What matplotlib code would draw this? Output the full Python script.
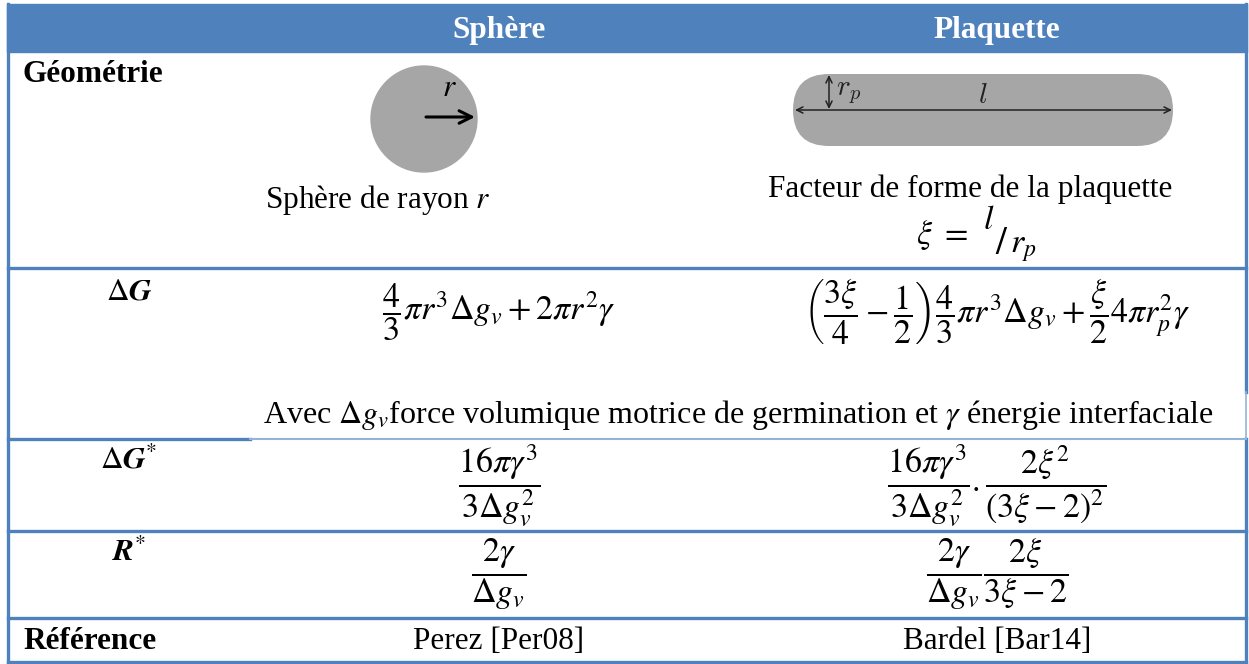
import matplotlib
matplotlib.use('Agg')
import matplotlib.pyplot as plt
from matplotlib.patches import Rectangle, Circle, FancyBboxPatch

plt.rcParams['mathtext.fontset'] = 'custom'
plt.rcParams['mathtext.rm'] = 'STIXGeneral'
plt.rcParams['mathtext.it'] = 'STIXGeneral:italic'
plt.rcParams['mathtext.bf'] = 'STIXGeneral:italic:bold'
plt.rcParams['font.family'] = ['Liberation Serif', 'DejaVu Serif']

# table content
columns = ['Sphère', 'Plaquette']
row_labels = ['Géométrie', r'$\Delta\mathbf{G}$', r'$\Delta\mathbf{G}^{*}$', r'$\mathbf{R}^{*}$', 'Référence']
geometry_captions = ['Sphère de rayon $r$', 'Facteur de forme de la plaquette']
shape_factor = [r'$\xi\ =$', '$l$', '$/$', '$r_p$']
delta_g = [r'$\dfrac{4}{3}\pi r^3\Delta g_v + 2\pi r^2\gamma$',
           r'$\left(\dfrac{3\xi}{4} - \dfrac{1}{2}\right)\dfrac{4}{3}\pi r^3\Delta g_v + \dfrac{\xi}{2}4\pi r_p^2\gamma$']
note = r'Avec $\Delta g_v$force volumique motrice de germination et $\gamma$ énergie interfaciale'
delta_g_star = [r'$\dfrac{16\pi\gamma^3}{3\Delta g_v^2}$',
                r'$\dfrac{16\pi\gamma^3}{3\Delta g_v^2}.\dfrac{2\xi^2}{(3\xi-2)^2}$']
r_star = [r'$\dfrac{2\gamma}{\Delta g_v}$',
          r'$\dfrac{2\gamma}{\Delta g_v}\dfrac{2\xi}{3\xi-2}$']
references = ['Perez [Per08]', 'Bardel [Bar14]']

BLUE = '#4F81BD'
LIGHT = '#95B3D7'
GREY = '#A6A6A6'
FS = 22.5
MFS = 24.5

fig = plt.figure(figsize=(12.49, 6.64), dpi=100)
ax = fig.add_axes([0, 0, 1, 1])
ax.set_xlim(0, 1249)
ax.set_ylim(664, 0)
ax.axis('off')

# column geometry (pixels)
x_left, x_c1, x_c2, x_right = 8, 250, 748, 1246
col_mid = [(x_c1 + x_c2) / 2, (x_c2 + x_right) / 2]
lab_mid = (x_left + x_c1) / 2

# header band
ax.add_patch(Rectangle((x_left - 1, 4), x_right - x_left + 2, 48, color=BLUE, zorder=1))
for name, xm in zip(columns, col_mid):
    ax.text(xm, 38, name, ha='center', va='baseline', color='white',
            fontsize=FS, fontweight='bold')

# borders and row rules
lw = 2.4
ax.plot([x_left, x_left], [4, 663], color=BLUE, lw=lw)
ax.plot([x_right, x_right], [4, 392], color=BLUE, lw=lw)
ax.plot([x_right, x_right], [392, 439], color=LIGHT, lw=1.2)
ax.plot([x_right, x_right], [439, 663], color=BLUE, lw=lw)
for y in [268, 531, 618, 662]:
    ax.plot([x_left, x_right], [y, y], color=BLUE, lw=lw)
ax.plot([x_left, x_c1], [439, 439], color=BLUE, lw=lw)
ax.plot([x_c1, x_right], [439, 439], color=LIGHT, lw=1.5)

# row labels
ax.text(23, 82, row_labels[0], ha='left', va='baseline', fontsize=FS, fontweight='bold')
ax.text(lab_mid, 292, row_labels[1], ha='center', va='center', fontsize=FS)
ax.text(lab_mid, 461, row_labels[2], ha='center', va='center', fontsize=FS)
ax.text(lab_mid, 553, row_labels[3], ha='center', va='center', fontsize=FS)
ax.text(23, 649, row_labels[4], ha='left', va='baseline', fontsize=FS, fontweight='bold')

# geometry: sphere
ax.add_patch(Circle((424, 119), 53, color=GREY, zorder=2))
ax.annotate('', xy=(475, 117), xytext=(426, 117), zorder=3,
            arrowprops=dict(arrowstyle='->,head_length=0.9,head_width=0.45',
                            lw=2.2, color='black', shrinkA=0, shrinkB=0))
ax.text(449, 88, '$r$', ha='center', va='center', fontsize=FS)
ax.text(265, 208, geometry_captions[0], ha='left', va='baseline', fontsize=FS)

# geometry: platelet
ax.add_patch(FancyBboxPatch((793, 74), 380, 72, boxstyle='round,pad=0,rounding_size=36',
                            color=GREY, zorder=2, lw=0))
ax.annotate('', xy=(1172, 110), xytext=(795, 110), zorder=3,
            arrowprops=dict(arrowstyle='<->,head_length=0.45,head_width=0.22',
                            lw=1.1, color='#222222', shrinkA=0, shrinkB=0))
ax.annotate('', xy=(829, 109), xytext=(829, 75), zorder=3,
            arrowprops=dict(arrowstyle='<->,head_length=0.45,head_width=0.22',
                            lw=1.1, color='#222222', shrinkA=0, shrinkB=0))
ax.text(836, 93, '$r_p$', ha='left', va='center', fontsize=21, math_fontfamily='cm', color='#222222')
ax.text(983, 96, '$l$', ha='center', va='center', fontsize=21, math_fontfamily='cm', color='#222222')
ax.text(970, 197, geometry_captions[1], ha='center', va='baseline', fontsize=FS)

# shape factor xi = l / r_p, drawn piece by piece to mimic the skewed fraction
ax.text(916, 244, shape_factor[0], ha='left', va='baseline', fontsize=MFS)
ax.text(983, 229, shape_factor[1], ha='left', va='baseline', fontsize=MFS)
ax.text(995, 254, shape_factor[2], ha='left', va='baseline', fontsize=28)
ax.text(1010, 252, shape_factor[3], ha='left', va='baseline', fontsize=MFS)

# delta G row
for f, xm in zip(delta_g, col_mid):
    ax.text(xm, 312, f, ha='center', va='center', fontsize=MFS)
ax.text(263, 423, note, ha='left', va='baseline', fontsize=FS + 0.5)

# critical energy and radius
for f, xm in zip(delta_g_star, col_mid):
    ax.text(xm, 486, f, ha='center', va='center', fontsize=MFS)
for f, xm in zip(r_star, col_mid):
    ax.text(xm, 574, f, ha='center', va='center', fontsize=MFS)

# references
for ref, xm in zip(references, col_mid):
    ax.text(xm, 649, ref, ha='center', va='baseline', fontsize=FS)

fig.savefig('out.png', dpi=100)
